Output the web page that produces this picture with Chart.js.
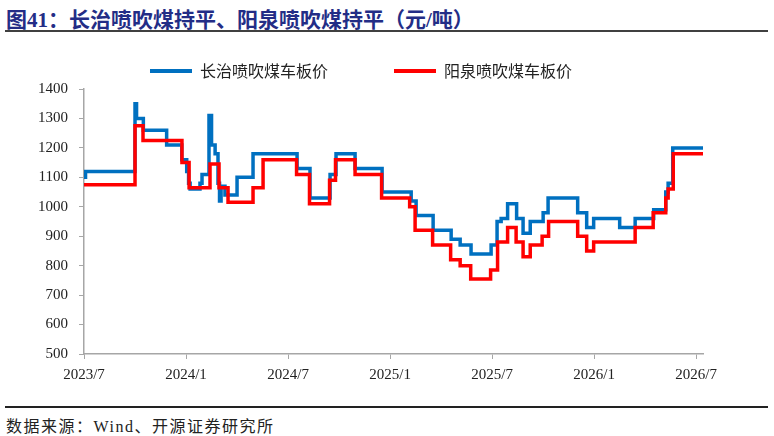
<!DOCTYPE html>
<html>
<head>
<meta charset="utf-8">
<script src="https://cdn.jsdelivr.net/npm/chart.js@4.4.1/dist/chart.umd.min.js"></script>
<style>
  body { margin: 0; background: #fff; width: 774px; height: 436px; position: relative; overflow: hidden; }
  #title { position: absolute; left: 6px; top: 3px; font: bold 21px "Liberation Serif", "Noto Sans CJK SC", serif; color: #232d86; white-space: nowrap; }
  #topline { position: absolute; left: 5px; top: 30px; width: 763px; height: 2px; background: #404040; }
  #botline { position: absolute; left: 5px; top: 406px; width: 763px; height: 1.5px; background: #222; }
  #source { position: absolute; left: 6px; top: 413px; font: 16px "Liberation Serif", "Noto Sans CJK SC", serif; color: #222; letter-spacing: 1.5px; white-space: nowrap; }
  #chart-div { position: absolute; left: 19px; top: -7px; width: 709px; height: 397px; }
</style>
</head>
<body>
<div id="title">图41：长治喷吹煤持平、阳泉喷吹煤持平（元/吨）</div>
<div id="topline"></div>
<div id="chart-div"><canvas id="priceChart"></canvas></div>
<div id="botline"></div>
<div id="source">数据来源：Wind、开源证券研究所</div>
<script>
// months counted from 2023/7, value is the price from that point on
let xLabels = ['2023/7', '2024/1', '2024/7', '2025/1', '2025/7', '2026/1', '2026/7'];

let changzhiMonths = [0, 0.09, 3.0, 3.09, 3.49, 4.86, 5.75, 6.04, 6.15, 6.24, 6.82, 6.94, 7.35, 7.5, 7.71, 7.88, 7.97, 8.06, 8.29, 9.0, 9.94,
    12.53, 13.29, 14.47, 14.82, 15.94, 17.53, 19.24, 19.53, 20.53, 21.59, 22.12, 22.76, 23.94, 24.29, 24.53, 24.91,
    25.44, 25.82, 26.24, 27.0, 27.29, 29.03, 29.56, 29.97, 31.5, 32.41, 33.5, 34.21, 34.35, 34.62, 36.47];
let changzhiPrice = [1100, 1120, 1350, 1300, 1260, 1210, 1160, 1120, 1080, 1060, 1080, 1110, 1310, 1210, 1180, 1080, 1020, 1070, 1040, 1100, 1180,
    1130, 1030, 1110, 1180, 1130, 1050, 1020, 970, 920, 890, 870, 840, 870, 950, 960, 1010,
    960, 910, 950, 980, 1030, 980, 930, 960, 930, 960, 990, 1050, 1080, 1200, 1200];

let yangquanMonths = [0, 3.0, 3.47, 5.76, 6.18, 7.41, 7.94, 8.47, 9.94, 10.53, 12.5, 13.26, 14.44, 14.79, 15.94, 17.5, 19.15, 19.47,
    20.5, 21.56, 22.12, 22.74, 23.91, 24.32, 24.91, 25.41, 25.82, 26.24, 26.94, 27.32, 29.03, 29.56, 29.97, 32.41,
    33.47, 34.21, 34.35, 34.65, 36.47];
let yangquanPrice = [1075, 1275, 1225, 1150, 1065, 1145, 1065, 1015, 1065, 1160, 1110, 1010, 1090, 1160, 1110, 1030, 1000, 920,
    870, 820, 800, 755, 785, 880, 930, 880, 830, 870, 900, 950, 900, 850, 880, 930,
    980, 1030, 1060, 1180, 1180];

let toPoints = function (months, prices) {
    return months.map(function (m, i) {
        return { x: m, y: prices[i] };
    });
}

let axisGray = '#a6a6a6';
let tickFont = { family: '"Liberation Serif", serif', size: 15 };

const ctx = document.getElementById('priceChart').getContext('2d');
var priceChart = new Chart(ctx, {
    type: 'line',
    data: {
        datasets: [{
            label: '长治喷吹煤车板价',
            data: toPoints(changzhiMonths, changzhiPrice),
            borderColor: '#0070c0',
            backgroundColor: '#0070c0',
            borderWidth: 3.5,
            stepped: true,
            pointRadius: 0,
            order: 2
        }, {
            label: '阳泉喷吹煤车板价',
            data: toPoints(yangquanMonths, yangquanPrice),
            borderColor: '#ff0000',
            backgroundColor: '#ff0000',
            borderWidth: 3.5,
            stepped: true,
            pointRadius: 0,
            order: 1
        }]
    },
    options: {
        responsive: true,
        maintainAspectRatio: false,
        animation: false,
        layout: { padding: { top: 4, right: 25, left: 0, bottom: 0 } },
        plugins: {
            tooltip: { enabled: false },
            legend: {
                position: 'top',
                labels: {
                    boxWidth: 42,
                    boxHeight: 4,
                    padding: 66,
                    color: '#222',
                    font: { family: '"Noto Sans CJK SC", sans-serif', size: 16 },
                    sort: function (a, b) { return a.datasetIndex - b.datasetIndex; },
                    generateLabels: function (chart) {
                        let items = Chart.defaults.plugins.legend.labels.generateLabels(chart);
                        items.forEach(function (item) { item.lineWidth = 0; });
                        return items;
                    }
                }
            }
        },
        scales: {
            x: {
                type: 'linear',
                min: 0,
                max: 36.4,
                afterBuildTicks: function (scale) {
                    scale.ticks = xLabels.map(function (l, i) { return { value: i * 6 }; });
                },
                afterFit: function (scale) {
                    scale.height = 36;
                    scale.paddingLeft = 0;
                    scale.paddingRight = 0;
                },
                ticks: {
                    autoSkip: false,
                    maxRotation: 0,
                    padding: 7,
                    color: '#222',
                    font: tickFont,
                    callback: function (value) { return xLabels[Math.round(value / 6)]; }
                },
                grid: { drawOnChartArea: false, tickLength: 5, color: axisGray },
                border: { color: axisGray, width: 1.5 }
            },
            y: {
                min: 500,
                max: 1400,
                afterFit: function (scale) {
                    scale.width = 65;
                },
                ticks: {
                    stepSize: 100,
                    padding: 11,
                    color: '#222',
                    font: tickFont,
                    callback: function (value) { return String(value); }
                },
                grid: { drawOnChartArea: false, tickLength: 5, color: axisGray },
                border: { color: axisGray, width: 1.5 }
            }
        }
    }
});
</script>
</body>
</html>
